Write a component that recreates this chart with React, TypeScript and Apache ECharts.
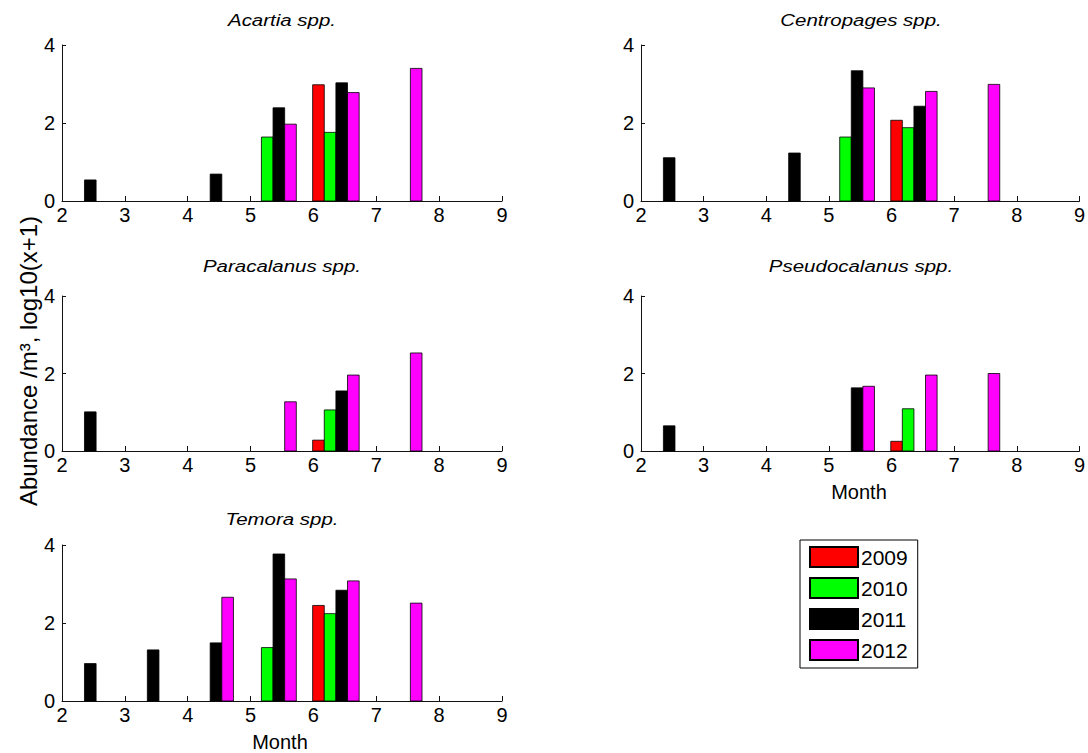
import React, { useEffect, useRef } from "react";
import * as echarts from "echarts";

const months = [2, 3, 4, 5, 6, 7];
const years = ["2009", "2010", "2011", "2012"];
const yearColors = ["#ff0000", "#00ff00", "#000000", "#ff00ff"];
const speciesNames = ["Acartia spp.", "Centropages spp.", "Paracalanus spp.", "Pseudocalanus spp.", "Temora spp."];

// log10(x+1) abundance per month (2..7); null = no bar
const acartia2009 = [null, null, null, null, 2.98, null];
const acartia2010 = [null, null, null, 1.64, 1.76, null];
const acartia2011 = [0.54, null, 0.69, 2.39, 3.03, null];
const acartia2012 = [null, null, null, 1.97, 2.78, 3.4];

const centropages2009 = [null, null, null, null, 2.07, null];
const centropages2010 = [null, null, null, 1.64, 1.88, null];
const centropages2011 = [1.11, null, 1.23, 3.34, 2.43, null];
const centropages2012 = [null, null, null, 2.9, 2.81, 2.99];

const paracalanus2009 = [null, null, null, null, 0.28, null];
const paracalanus2010 = [null, null, null, null, 1.06, null];
const paracalanus2011 = [1.01, null, null, null, 1.55, null];
const paracalanus2012 = [null, null, null, 1.27, 1.96, 2.53];

const pseudocalanus2009 = [null, null, null, null, 0.25, null];
const pseudocalanus2010 = [null, null, null, null, 1.09, null];
const pseudocalanus2011 = [0.65, null, null, 1.63, null, null];
const pseudocalanus2012 = [null, null, null, 1.67, 1.96, 2.0];

const temora2009 = [null, null, null, null, 2.45, null];
const temora2010 = [null, null, null, 1.37, 2.24, null];
const temora2011 = [0.96, 1.31, 1.49, 3.77, 2.84, null];
const temora2012 = [null, null, 2.66, 3.13, 3.08, 2.51];

const speciesData = [
  [acartia2009, acartia2010, acartia2011, acartia2012],
  [centropages2009, centropages2010, centropages2011, centropages2012],
  [paracalanus2009, paracalanus2010, paracalanus2011, paracalanus2012],
  [pseudocalanus2009, pseudocalanus2010, pseudocalanus2011, pseudocalanus2012],
  [temora2009, temora2010, temora2011, temora2012],
];

// layout
const barOffsets = [0.08, 0.265, 0.45, 0.635];
const barWidth = 0.185;
const FONT = "'Liberation Sans', Arial, Helvetica, sans-serif";
const grids = [
  { left: 62, top: 45, width: 440, height: 156 },
  { left: 641, top: 45, width: 440, height: 156 },
  { left: 62, top: 296, width: 440, height: 155 },
  { left: 641, top: 296, width: 440, height: 155 },
  { left: 62, top: 545, width: 440, height: 156 },
];
const titleY = [20, 20, 266, 266, 519];

export default function App() {
  const ref = useRef<HTMLDivElement>(null);
  useEffect(() => {
    if (!ref.current) return;
    const chart = echarts.init(ref.current, undefined, { renderer: "svg" });

    const axisLine = { show: true, lineStyle: { color: "#111", width: 1 } };
    const xAxis = grids.map((_, i) => ({
      type: "value",
      gridIndex: i,
      min: 2,
      max: 9,
      interval: 1,
      axisLine: { ...axisLine, onZero: false },
      axisTick: { show: true, inside: true, length: 5, lineStyle: { color: "#111" } },
      splitLine: { show: false },
      axisLabel: { fontSize: 20, color: "#000", fontFamily: FONT, margin: 4 },
    }));
    const yAxis = grids.map((_, i) => ({
      type: "value",
      gridIndex: i,
      min: 0,
      max: 4,
      interval: 2,
      axisLine: axisLine,
      axisTick: { show: true, inside: true, length: 4, lineStyle: { color: "#111" } },
      splitLine: { show: false },
      axisLabel: { fontSize: 20, color: "#000", fontFamily: FONT, margin: 7 },
    }));

    const series: any[] = [];
    speciesData.forEach((yearsData, si) => {
      yearsData.forEach((vals, yi) => {
        const data = months
          .map((m, k) => (vals[k] == null ? null : [m, vals[k]]))
          .filter((d) => d !== null);
        const color = yearColors[yi];
        const off = barOffsets[yi];
        series.push({
          type: "custom",
          name: years[yi],
          xAxisIndex: si,
          yAxisIndex: si,
          itemStyle: { color, borderColor: "#000", borderWidth: 0.8 },
          encode: { x: 0, y: 1 },
          data,
          renderItem: (params: any, api: any) => {
            const m = api.value(0) as number;
            const v = api.value(1) as number;
            const p0 = api.coord([m + off - barWidth / 2, 0]);
            const p1 = api.coord([m + off + barWidth / 2, v]);
            return {
              type: "rect",
              shape: { x: p0[0], y: p1[1], width: p1[0] - p0[0], height: p0[1] - p1[1] },
              style: { fill: color, stroke: "#000", lineWidth: 0.8 },
            };
          },
        });
      });
    });

    const graphic: any[] = speciesNames.map((name, i) => ({
      type: "text",
      x: grids[i].left + grids[i].width / 2,
      y: titleY[i],
      scaleX: 1.28,
      style: {
        text: name,
        font: `italic 16px ${FONT}`,
        fill: "#000",
        textAlign: "center",
        textVerticalAlign: "middle",
      },
    }));
    graphic.push({
      type: "text",
      x: 28,
      y: 361,
      rotation: Math.PI / 2,
      style: {
        text: "Abundance /m³, log10(x+1)",
        font: `24px ${FONT}`,
        fill: "#000",
        textAlign: "center",
        textVerticalAlign: "middle",
      },
    });
    [3, 4].forEach((gi) => {
      graphic.push({
        type: "text",
        x: grids[gi].left + grids[gi].width / 2 - 2,
        y: grids[gi].top + grids[gi].height + 41,
        style: {
          text: "Month",
          font: `20px ${FONT}`,
          fill: "#000",
          textAlign: "center",
          textVerticalAlign: "middle",
        },
      });
    });

    chart.setOption({
      animation: false,
      backgroundColor: "#fff",
      grid: grids,
      xAxis,
      yAxis,
      series,
      graphic,
      legend: {
        data: years,
        orient: "vertical",
        left: 800,
        top: 540,
        icon: "rect",
        itemWidth: 48,
        itemHeight: 20,
        itemGap: 9,
        padding: [6, 10, 7, 9],
        borderColor: "#000",
        borderWidth: 1,
        selectedMode: false,
        textStyle: { fontSize: 21, lineHeight: 20, color: "#000", fontFamily: FONT, padding: [0, 0, 0, -2] },
      },
    });
    return () => chart.dispose();
  }, []);
  return (
    <div
      ref={ref}
      style={{ position: "fixed", left: 0, top: 0, width: 1088, height: 753, background: "#fff" }}
    />
  );
}
